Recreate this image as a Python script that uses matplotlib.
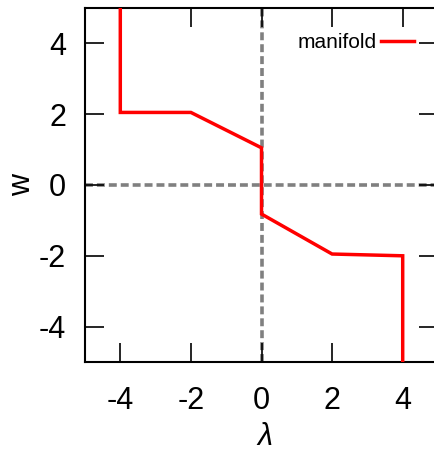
import matplotlib
matplotlib.use("Agg")
from matplotlib import pyplot as plt

plt.rcParams['font.family'] = ['Liberation Sans', 'DejaVu Sans']
plt.rcParams['axes.unicode_minus'] = False

# manifold points
lam = [-4, -4, -2, 0, 0, 2, 4, 4]
w = [5, 2.05, 2.05, 1.05, -0.82, -1.95, -2.0, -5]
ticks = [-4, -2, 0, 2, 4]

fig = plt.figure(figsize=(4.35, 4.54), dpi=100)
ax = fig.add_axes([85/435, 92/454, 353/435, 354/454])

ax.axvline(0, color="#808080", lw=2.6, ls=(0, (2.2, 1.1)), zorder=1)
ax.axhline(0, color="#808080", lw=2.6, ls=(0, (2.2, 1.1)), zorder=1)
ax.plot(lam, w, color="#ff0000", lw=2.5, label="manifold", zorder=3,
        solid_joinstyle="miter")

ax.set_xlim(-5, 5)
ax.set_ylim(-5, 5)
ax.set_xticks(ticks)
ax.set_yticks(ticks)
ax.tick_params(direction="in", length=14, width=1.2, labelsize=22,
               top=True, right=True)
ax.tick_params(axis="x", pad=17)
ax.tick_params(axis="y", pad=13.5)
for s in ax.spines.values():
    s.set_linewidth(1.5)

ax.set_xlabel("λ", fontsize=22, fontstyle="italic", va="center")
ax.set_ylabel("w", fontsize=22, va="center")
ax.xaxis.set_label_coords(0.51, -0.212)
ax.yaxis.set_label_coords(-0.178, 0.5)

ax.legend(loc="center right", bbox_to_anchor=(414/435, 1 - 43/454),
          bbox_transform=fig.transFigure, frameon=False, markerfirst=False,
          fontsize=15, handlelength=1.6, handletextpad=0.2, borderpad=0,
          borderaxespad=0)

fig.savefig("out.png", dpi=100)
